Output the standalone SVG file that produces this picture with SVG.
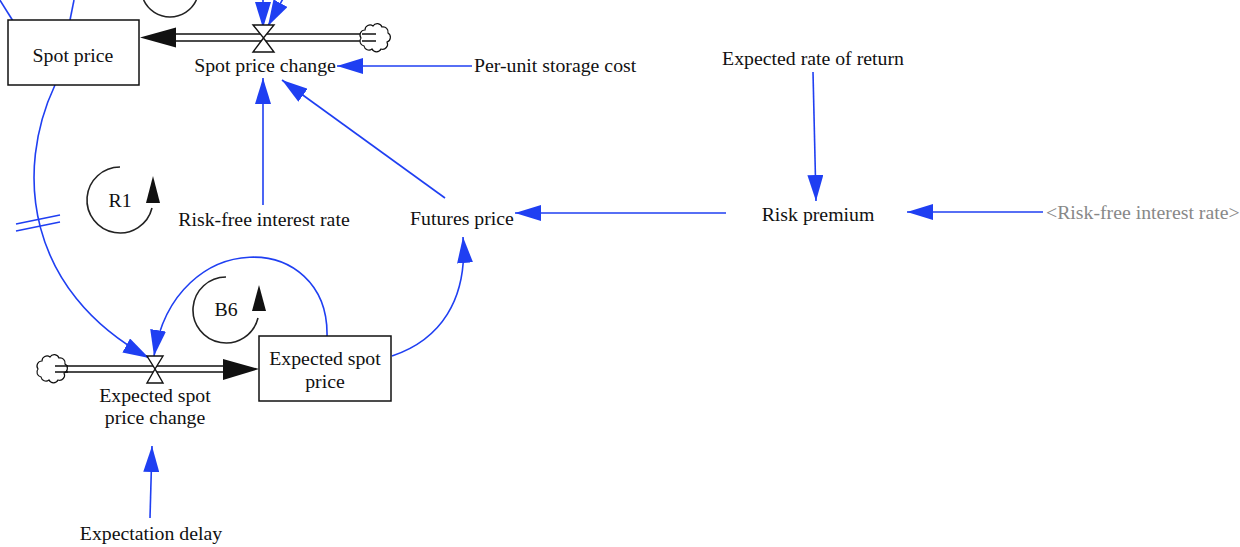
<svg xmlns="http://www.w3.org/2000/svg" width="1240" height="547" viewBox="0 0 1240 547">
<style>
text{font-family:"Liberation Serif","Times New Roman",serif;font-size:19.8px;fill:#111}
.c{text-anchor:middle}
.g{fill:#888}
.link{fill:none;stroke:#1f3ff2;stroke-width:1.6}
.head{marker-end:url(#ah)}
.box{fill:#fff;stroke:#111;stroke-width:1.5}
.pipe{stroke:#111;stroke-width:1.5;fill:none}
.valve{fill:#fff;stroke:#111;stroke-width:1.4}
.loop{fill:none;stroke:#222;stroke-width:1.6}
.cloud{fill:#fff;stroke:#111;stroke-width:1.2}
</style>
<defs>
<marker id="ah" viewBox="0 0 26 16" refX="26" refY="8" markerWidth="26" markerHeight="16" markerUnits="userSpaceOnUse" orient="auto">
<path d="M0,0 L26,8 L0,16 z" fill="#1f3ff2"/>
</marker>
<path id="cl" d="M -10,-8 a5,5 0 0 1 8,-4 a5,5 0 0 1 9,1 a5,5 0 0 1 6,6 a5,5 0 0 1 -1,9 a5,5 0 0 1 -6,7 a5,5 0 0 1 -9,0 a5,5 0 0 1 -8,-3 a5,5 0 0 1 -3,-8 a5,5 0 0 1 4,-8 z"/>
</defs>

<g id="connectors">
<path class="link" d="M -2 -3 L 13 21"/>
<path class="link" d="M 74 0 L 70 20"/>
<path class="link head" d="M 55 85 C 15 170, 25 290, 149 358"/>
<path class="pipe" d="M16 231 L60 222 M16 224 L60 215" style="stroke:#1f3ff2"/>
<path class="link head" d="M 327 337 C 330 230, 175 225, 154 356"/>
<path class="link head" d="M 392 356 C 440 340, 468 300, 463 237"/>
<path class="link head" d="M 445 198 L 282 80"/>
<path class="link head" d="M 263 205 L 263 78"/>
<path class="link head" d="M 472 66 L 337 66"/>
<path class="link head" d="M 726 213 L 515 213"/>
<path class="link head" d="M 1043 212 L 907 212"/>
<path class="link head" d="M 813 72 L 816 201"/>
<path class="link head" d="M 150 518 L 152 446"/>
<path class="link head" d="M 263 -40 L 263 28"/>
<path class="link head" d="M 296 -25 L 268 26"/>
</g>

<g id="flow-spot">
<path class="pipe" d="M170 34 L376 34 M170 41 L376 41"/>
<path d="M140 37.5 L176 27.5 L176 47.5 z" fill="#111"/>
<use href="#cl" class="cloud" transform="translate(375 38)"/>
<path class="pipe" d="M362 34 L376 34 M362 41 L376 41"/>
<path class="valve" d="M253 25 L274 25 L263.5 38 z M263.5 38 L253 52 L274 52 z"/>
</g>

<g id="flow-expected">
<path class="pipe" d="M55 366 L226 366 M55 372 L226 372"/>
<path d="M259 369 L223 359 L223 380 z" fill="#111"/>
<use href="#cl" class="cloud" transform="translate(52 369)"/>
<path class="pipe" d="M55 366 L68 366 M55 372 L68 372"/>
<path class="valve" d="M147 356 L163 356 L155 369 z M155 369 L147 383 L163 383 z"/>
</g>

<g id="spot-price">
<rect class="box" x="8" y="20" width="131" height="65"/>
<text class="c" x="73" y="62">Spot price</text>
</g>
<g id="spot-price-change"><text class="c" x="265" y="72">Spot price change</text></g>
<g id="per-unit-storage-cost"><text x="474" y="72">Per-unit storage cost</text></g>
<g id="expected-rate-of-return"><text class="c" x="813" y="65">Expected rate of return</text></g>
<g id="risk-free-interest-rate"><text class="c" x="264" y="226">Risk-free interest rate</text></g>
<g id="futures-price"><text class="c" x="462" y="225">Futures price</text></g>
<g id="risk-premium"><text class="c" x="818" y="221">Risk premium</text></g>
<g id="risk-free-shadow"><text class="g" x="1046" y="219">&lt;Risk-free interest rate&gt;</text></g>
<g id="expected-spot-price">
<rect class="box" x="259" y="336" width="132" height="65"/>
<text class="c" x="325" y="365">Expected spot</text>
<text class="c" x="325" y="388">price</text>
</g>
<g id="expected-spot-price-change">
<text class="c" x="155" y="402">Expected spot</text>
<text class="c" x="155" y="424">price change</text>
</g>
<g id="expectation-delay"><text class="c" x="151" y="540">Expectation delay</text></g>

<g id="loop-top"><path class="loop" d="M 143.6 0 A 29 29 0 0 0 196.4 0"/></g>
<g id="loop-R1">
<path class="loop" d="M 120 167 A 33 33 0 1 0 152 208"/>
<path d="M146 203 L160 203 L153 176 z" fill="#111"/>
<text class="c" x="120" y="207">R1</text>
</g>
<g id="loop-B6">
<path class="loop" d="M 226 277 A 33 33 0 1 0 258 318"/>
<path d="M252 311 L266 311 L259 285 z" fill="#111"/>
<text class="c" x="226" y="316">B6</text>
</g>
</svg>
